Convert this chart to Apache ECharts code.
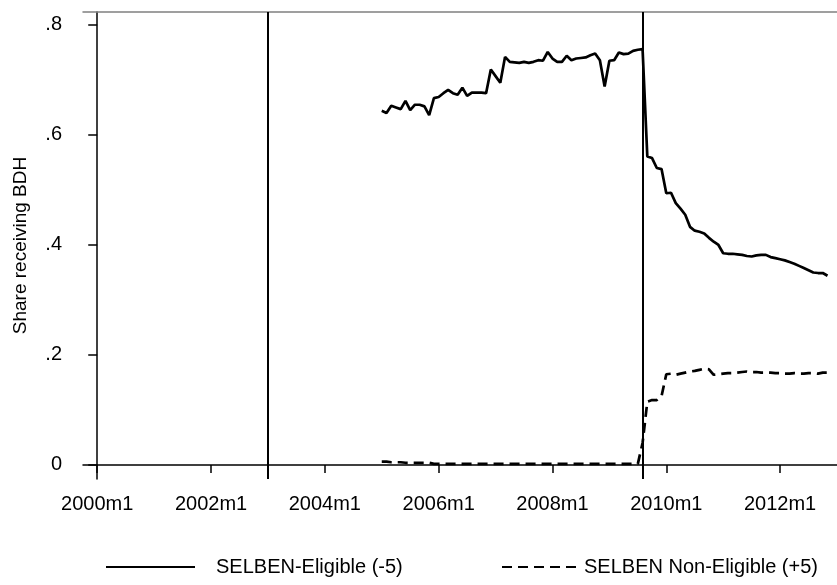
<!DOCTYPE html>
<html>
<head>
<meta charset="utf-8">
<script src="https://cdn.jsdelivr.net/npm/echarts@6/dist/echarts.min.js"></script>
<style>
  html, body { margin: 0; padding: 0; background: #fff; }
  #chart { width: 837px; height: 585px; }
</style>
</head>
<body>
<div id="chart"></div>
<script>
// months counted from 2000m1 = 0; series start at 2005m1
var startMonth = 60;
var tickMonths = [0, 24, 48, 72, 96, 120, 144];
var tickLabels = ['2000m1', '2002m1', '2004m1', '2006m1', '2008m1', '2010m1', '2012m1'];
var yTicks = [0, 0.2, 0.4, 0.6, 0.8];
var yTickLabels = ['0', '.2', '.4', '.6', '.8'];
var cutoffMonths = [36, 115];  // vertical lines: 2003m1, 2009m8
var seriesNames = ['SELBEN-Eligible (-5)', 'SELBEN Non-Eligible (+5)'];

var eligible = [
  0.644, 0.640, 0.653, 0.650, 0.647, 0.662, 0.645, 0.655, 0.655, 0.652,
  0.636, 0.667, 0.669, 0.676, 0.682, 0.676, 0.673, 0.686, 0.671, 0.677,
  0.677, 0.677, 0.676, 0.719, 0.707, 0.695, 0.742, 0.733, 0.732, 0.731,
  0.733, 0.731, 0.733, 0.736, 0.735, 0.751, 0.739, 0.733, 0.733, 0.744,
  0.736, 0.739, 0.740, 0.741, 0.745, 0.748, 0.736, 0.688, 0.735, 0.736,
  0.750, 0.747, 0.748, 0.753, 0.755, 0.756, 0.561, 0.558, 0.540, 0.538,
  0.494, 0.495, 0.476, 0.466, 0.455, 0.433, 0.426, 0.424, 0.421, 0.413,
  0.406, 0.400, 0.385, 0.384, 0.384, 0.383, 0.382, 0.380, 0.379, 0.381,
  0.382, 0.382, 0.378, 0.376, 0.374, 0.372, 0.369, 0.366, 0.362, 0.358,
  0.354, 0.350, 0.349, 0.349, 0.344
];

var nonEligible = [
  0.006, 0.006, 0.005, 0.005, 0.005, 0.004, 0.004, 0.004, 0.004, 0.004,
  0.004, 0.002, 0.002, 0.002, 0.002, 0.002, 0.002, 0.002, 0.002, 0.002,
  0.002, 0.002, 0.002, 0.002, 0.002, 0.002, 0.002, 0.002, 0.002, 0.002,
  0.002, 0.002, 0.002, 0.002, 0.002, 0.002, 0.002, 0.002, 0.002, 0.002,
  0.002, 0.002, 0.002, 0.002, 0.002, 0.002, 0.002, 0.002, 0.002, 0.002,
  0.002, 0.002, 0.002, 0.002, 0.002, 0.040, 0.115, 0.118, 0.118, 0.125,
  0.165, 0.166, 0.164, 0.166, 0.168, 0.170, 0.171, 0.173, 0.175, 0.174,
  0.164, 0.165, 0.166, 0.167, 0.167, 0.168, 0.169, 0.170, 0.169, 0.169,
  0.168, 0.168, 0.168, 0.167, 0.167, 0.166, 0.166, 0.167, 0.166, 0.166,
  0.167, 0.167, 0.166, 0.168, 0.168
];

function toPairs(arr) {
  return arr.map(function (v, i) { return [startMonth + i, v]; });
}

var font = 'Liberation Sans, Arial, sans-serif';
var legendText = { fontSize: 20, color: '#000', fontFamily: font };
var chart = echarts.init(document.getElementById('chart'));

var option = {
  animation: false,
  textStyle: { fontFamily: font },
  grid: { left: 83, right: 0, top: 12, bottom: 106 },
  // two legend blocks so each key can have its own length
  legend: [{
    left: 105,
    top: 557,
    padding: 0,
    itemWidth: 89,
    itemHeight: 14,
    itemStyle: { opacity: 0 },
    textStyle: Object.assign({ padding: [0, 0, 0, 16] }, legendText),
    data: [seriesNames[0]]
  }, {
    left: 501,
    top: 557,
    padding: 0,
    itemWidth: 74,
    itemHeight: 14,
    itemStyle: { opacity: 0 },
    textStyle: Object.assign({ padding: [0, 0, 0, 3] }, legendText),
    data: [seriesNames[1]]
  }],
  xAxis: [{
    type: 'value',
    min: -3,
    max: 156,
    splitLine: { show: false },
    axisLine: { lineStyle: { color: '#000', width: 1.5 } },
    axisTick: { customValues: tickMonths, length: 8, lineStyle: { color: '#000', width: 1.5 } },
    axisLabel: {
      customValues: tickMonths,
      formatter: function (v) { return tickLabels[tickMonths.indexOf(v)]; },
      fontSize: 20, color: '#000', margin: 15
    }
  }, {
    type: 'value',
    position: 'top',
    min: -3,
    max: 156,
    splitLine: { show: false },
    axisLine: { lineStyle: { color: '#808080', width: 1.5 } },
    axisTick: { show: false },
    axisLabel: { show: false }
  }],
  yAxis: {
    type: 'value',
    min: -0.0255,
    max: 0.8236,
    name: 'Share receiving BDH',
    nameLocation: 'middle',
    nameGap: 53,
    nameTextStyle: { fontSize: 19, color: '#000' },
    splitLine: { show: false },
    axisLine: { lineStyle: { color: '#000', width: 1.5 } },
    axisTick: { customValues: yTicks, length: 9, lineStyle: { color: '#000', width: 1.5 } },
    axisLabel: {
      customValues: yTicks,
      formatter: function (v) { return yTickLabels[yTicks.indexOf(v)]; },
      fontSize: 20, color: '#000', margin: 21
    }
  },
  series: [{
    name: seriesNames[0],
    type: 'line',
    data: toPairs(eligible),
    showSymbol: false,
    symbol: 'none',
    lineStyle: { color: '#000', width: 2.7 },
    itemStyle: { color: '#000' },
    markLine: {
      silent: true,
      symbol: ['none', 'none'],
      label: { show: false },
      lineStyle: { color: '#000', width: 2, type: 'solid' },
      data: cutoffMonths.map(function (m) { return { xAxis: m }; })
    }
  }, {
    name: seriesNames[1],
    type: 'line',
    data: toPairs(nonEligible),
    showSymbol: false,
    symbol: 'none',
    lineStyle: { color: '#000', width: 2.7, type: [10, 6] },
    itemStyle: { color: '#000' }
  }]
};

chart.setOption(option);
</script>
</body>
</html>
